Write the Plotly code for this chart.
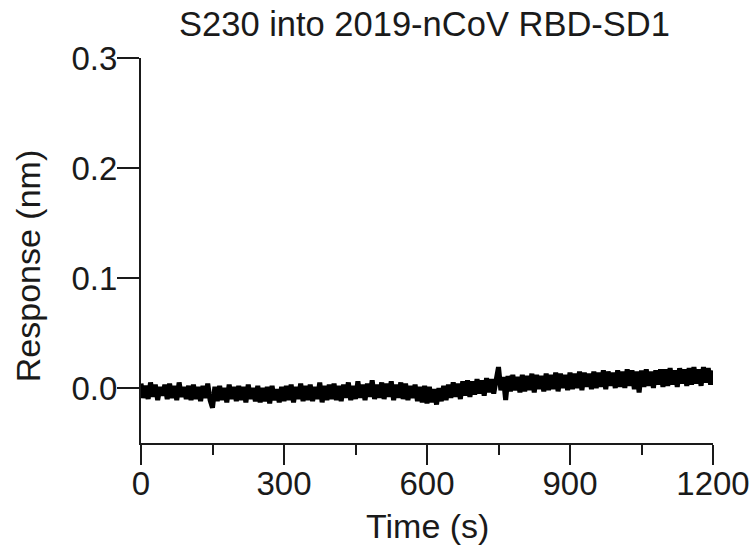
import plotly.graph_objects as go

# ---- data ----
title_text = "S230 into 2019-nCoV RBD-SD1"
x_title = "Time (s)"
y_title = "Response (nm)"

x_tickvals = [0, 300, 600, 900, 1200]
x_ticktext = ["0", "300", "600", "900", "1200"]
y_tickvals = [0.0, 0.1, 0.2, 0.3]
y_ticktext = ["0.0", "0.1", "0.2", "0.3"]

# sampling grid (every 5 s)
time_s = list(range(0, 1201, 5))

# response values (nm)
response_nm = [
    0.004, -0.009, 0.002, -0.010, 0.005, -0.008, 0.003, -0.011, 0.001, -0.007,
    0.003, -0.010, 0.004, -0.009, 0.002, -0.011, 0.005, -0.008, 0.001, -0.010,
    0.002, -0.011, 0.003, -0.010, 0.001, -0.012, 0.002, -0.009, 0.004, -0.011,
    -0.018, 0.001, -0.012, 0.002, -0.011, 0.000, -0.013, 0.003, -0.010, 0.001,
    -0.012, 0.002, -0.011, 0.001, -0.013, 0.003, -0.010, 0.000, -0.012, 0.002,
    -0.013, 0.000, -0.012, 0.001, -0.014, 0.002, -0.011, -0.001, -0.013, 0.001,
    -0.012, 0.002, -0.011, 0.003, -0.013, 0.001, -0.010, 0.004, -0.012, 0.002,
    -0.011, 0.003, -0.012, 0.001, -0.010, 0.005, -0.013, 0.002, -0.011, 0.003,
    -0.010, 0.004, -0.011, 0.002, -0.012, 0.003, -0.009, 0.005, -0.011, 0.002,
    -0.010, 0.006, -0.009, 0.003, -0.011, 0.004, -0.008, 0.007, -0.010, 0.003,
    -0.009, 0.005, -0.010, 0.004, -0.008, 0.006, -0.011, 0.003, -0.009, 0.005,
    -0.010, 0.004, -0.011, 0.002, -0.009, 0.003, -0.012, 0.001, -0.013, 0.002,
    -0.014, 0.001, -0.013, -0.001, -0.015, 0.000, -0.012, 0.002, -0.011, 0.003,
    -0.009, 0.005, -0.008, 0.004, -0.010, 0.006, -0.007, 0.007, -0.008, 0.006,
    -0.006, 0.008, -0.005, 0.007, -0.007, 0.009, -0.004, 0.008, -0.005, 0.010,
    0.019, -0.002, 0.010, -0.011, 0.011, -0.003, 0.012, -0.002, 0.010, -0.004,
    0.012, -0.003, 0.011, -0.002, 0.013, -0.004, 0.012, -0.001, 0.011, -0.003,
    0.013, -0.002, 0.012, -0.001, 0.014, -0.003, 0.013, 0.000, 0.012, -0.002,
    0.014, -0.001, 0.013, 0.000, 0.015, -0.002, 0.014, 0.001, 0.013, -0.001,
    0.015, 0.000, 0.014, 0.001, 0.016, -0.001, 0.015, 0.002, 0.014, 0.000,
    0.016, 0.001, 0.015, 0.000, 0.017, 0.002, 0.016, -0.001, 0.015, -0.004,
    0.016, 0.001, 0.017, 0.002, 0.015, 0.000, 0.016, 0.003, 0.017, 0.001,
    0.017, 0.002, 0.018, 0.003, 0.016, 0.001, 0.018, 0.004, 0.017, 0.002,
    0.018, 0.003, 0.019, 0.004, 0.017, 0.002, 0.019, 0.005, 0.018, 0.003,
    0.016,
]

FONT = "Liberation Sans, Arial, sans-serif"
INK = "#1a1a1a"

fig = go.Figure()
fig.add_trace(go.Scatter(
    x=time_s, y=response_nm, mode="lines",
    line=dict(color="#000000", width=5),
    showlegend=False, hoverinfo="skip",
))

fig.update_layout(
    width=754, height=553, autosize=False,
    margin=dict(l=141, r=41, t=58, b=110, pad=0),
    paper_bgcolor="white", plot_bgcolor="white",
    font=dict(family=FONT, color=INK, size=33),
    showlegend=False,
    annotations=[
        dict(text=title_text, xref="paper", yref="paper",
             x=0.4965, y=1.089, xanchor="center", yanchor="middle",
             showarrow=False, font=dict(size=34.5, family=FONT, color=INK)),
        dict(text=x_title, xref="paper", yref="paper",
             x=0.5017, y=-0.215, xanchor="center", yanchor="middle",
             showarrow=False, font=dict(size=34, family=FONT, color=INK)),
        dict(text=y_title, xref="paper", yref="paper", textangle=-90,
             x=-0.197, y=0.46, xanchor="center", yanchor="middle",
             showarrow=False, font=dict(size=34, family=FONT, color=INK)),
    ],
)

fig.update_xaxes(
    range=[0, 1200], tickvals=x_tickvals, ticktext=x_ticktext,
    automargin=False,
    showgrid=False, zeroline=False,
    showline=True, linewidth=2, linecolor=INK, mirror=False,
    ticks="outside", ticklen=20, tickwidth=2, tickcolor=INK,
    ticklabelstandoff=-10,
    tickfont=dict(size=33, family=FONT, color=INK),
    minor=dict(ticks="outside", ticklen=10, tickwidth=2, tickcolor=INK,
               tick0=0, dtick=150, showgrid=False),
)
fig.update_yaxes(
    range=[-0.05, 0.3], tickvals=y_tickvals, ticktext=y_ticktext,
    automargin=False,
    showgrid=False, zeroline=False,
    showline=True, linewidth=2, linecolor=INK, mirror=False,
    ticks="outside", ticklen=22, tickwidth=2, tickcolor=INK,
    ticklabelstandoff=-7,
    tickfont=dict(size=33, family=FONT, color=INK),
)

# remove the browser's default 8 px body margin so the figure sits at (0, 0)
fig.write_html(
    "out.html",
    config={"displayModeBar": False, "staticPlot": True},
    post_script="document.body.style.margin='0';document.body.style.overflow='hidden';",
)
